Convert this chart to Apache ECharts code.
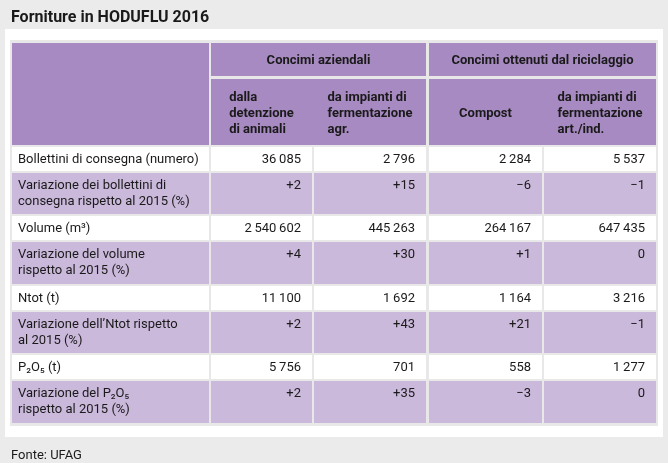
<!DOCTYPE html>
<html>
<head>
<meta charset="utf-8">
<script src="https://cdn.jsdelivr.net/npm/echarts@6/dist/echarts.min.js"></script>
<style>
html,body{margin:0;padding:0;background:#ebebeb;}
#main{width:668px;height:463px;}
</style>
</head>
<body>
<div id="main"></div>
<script>
// --- dati ---
const titolo = 'Forniture in HODUFLU 2016';
const fonte = 'Fonte: UFAG';
const gruppi = ['Concimi aziendali', 'Concimi ottenuti dal riciclaggio'];
const colonne = ['dalla\ndetenzione\ndi animali', 'da impianti di\nfermentazione\nagr.', 'Compost', 'da impianti di\nfermentazione\nart./ind.'];
const righe = [
	'Bollettini di consegna (numero)',
	'Variazione dei bollettini di\nconsegna rispetto al 2015 (%)',
	'Volume (m\u00b3)',
	'Variazione del volume\nrispetto al 2015 (%)',
	'Ntot (t)',
	'Variazione dell\u2019Ntot rispetto\nal 2015 (%)',
	'P\u2082O\u2085 (t)',
	'Variazione del P\u2082O\u2085\nrispetto al 2015 (%)'
];
const bollettini = [36085, 2796, 2284, 5537];
const varBollettini = [2, 15, -6, -1];
const volume = [2540602, 445263, 264167, 647435];
const varVolume = [4, 30, 1, 0];
const ntot = [11100, 1692, 1164, 3216];
const varNtot = [2, 43, 21, -1];
const p2o5 = [5756, 701, 558, 1277];
const varP2o5 = [2, 35, -3, 0];
const valori = [bollettini, varBollettini, volume, varVolume, ntot, varNtot, p2o5, varP2o5];

// --- layout ---
const W = 668, H = 463;
const colL = [12, 211, 314, 429, 544];
const colR = [209, 312, 426, 542, 656];
const gruppoCol = [0, 0, 1, 1];
const head1 = [43, 76], head2 = [79, 145];
const altezze = [24, 41, 24, 42, 24, 41, 24, 42];
const FONT = 'Roboto';
const viola = '#a78ac1', lilla = '#cbb9dc', bianco = '#ffffff', grigio = '#e8e8e8';

let rowTop = [];
let y = 147;
for (let h of altezze) { rowTop.push(y); y += h + 2; }

function fmtNum(v) {
	return String(v).replace(/\B(?=(\d{3})+(?!\d))/g, '\u2009');
}
function fmtVar(v) {
	if (v > 0) return '+' + v;
	if (v < 0) return '\u2212' + (-v);
	return '0';
}

const ctx = document.createElement('canvas').getContext('2d');
function larghezza(testo, font) {
	ctx.font = font;
	return Math.max(...testo.split('\n').map(t => ctx.measureText(t).width));
}

// celle: tipo, colonna, riga
let celle = [];
celle.push({ t: 'angolo' });
gruppi.forEach((g, i) => celle.push({ t: 'gruppo', i: i, testo: g }));
colonne.forEach((c, i) => celle.push({ t: 'sotto', i: i, testo: c }));
righe.forEach((r, ri) => {
	celle.push({ t: 'etichetta', r: ri, testo: r });
	valori[ri].forEach((v, ci) => {
		celle.push({ t: 'valore', r: ri, i: ci, testo: ri % 2 ? fmtVar(v) : fmtNum(v) });
	});
});

function renderItem(params, api) {
	const c = celle[params.dataIndex];
	let x0, x1, y0, y1, txt = null;
	const base = { fontFamily: FONT, fontSize: 13, fill: '#1a1a1a', lineHeight: 16 };
	if (c.t === 'angolo') {
		x0 = colL[0]; x1 = colR[0]; y0 = head1[0]; y1 = head2[1];
	} else if (c.t === 'gruppo') {
		x0 = colL[1 + c.i * 2]; x1 = colR[2 + c.i * 2]; y0 = head1[0]; y1 = head1[1];
		const p = api.coord([(x0 + x1) / 2, (y0 + y1) / 2]);
		txt = Object.assign({}, base, { text: c.testo, x: p[0], y: p[1] + 1, align: 'center', verticalAlign: 'middle', fontWeight: 'bold' });
	} else if (c.t === 'sotto') {
		const k = c.i + 1;
		x0 = colL[k];
		x1 = (k < 4 && gruppoCol[c.i] === gruppoCol[c.i + 1]) ? colL[k + 1] : colR[k];
		y0 = head2[0]; y1 = head2[1];
		const w = larghezza(c.testo, 'bold 13px ' + FONT);
		const p = api.coord([(colL[k] + colR[k]) / 2 - w / 2, (y0 + y1) / 2]);
		txt = Object.assign({}, base, { text: c.testo, x: p[0], y: p[1] + 2, align: 'left', verticalAlign: 'middle', fontWeight: 'bold' });
	} else if (c.t === 'etichetta') {
		x0 = colL[0]; x1 = colR[0]; y0 = rowTop[c.r]; y1 = y0 + altezze[c.r];
		const p = api.coord([x0 + 6, y0 + 5]);
		txt = Object.assign({}, base, { text: c.testo, x: p[0], y: p[1], align: 'left', verticalAlign: 'top' });
	} else {
		const k = c.i + 1;
		x0 = colL[k]; x1 = colR[k]; y0 = rowTop[c.r]; y1 = y0 + altezze[c.r];
		const p = api.coord([x1 - 11, y0 + 5]);
		txt = Object.assign({}, base, { text: c.testo, x: p[0], y: p[1], align: 'right', verticalAlign: 'top' });
	}
	const a = api.coord([x0, y0]), b = api.coord([x1, y1]);
	let colore = viola;
	if (c.t === 'etichetta' || c.t === 'valore') colore = c.r % 2 ? lilla : bianco;
	const children = [{ type: 'rect', shape: { x: a[0], y: a[1], width: b[0] - a[0], height: b[1] - a[1] }, style: { fill: colore } }];
	if (txt) children.push({ type: 'text', style: txt, z2: 10 });
	return { type: 'group', children: children };
}

const chart = echarts.init(document.getElementById('main'), null, { renderer: 'canvas' });
chart.setOption({
	backgroundColor: '#ebebeb',
	animation: false,
	title: [
		{ text: titolo, left: 6, top: 5, textStyle: { fontFamily: FONT, fontSize: 16, fontWeight: 'bold', color: '#1a1a1a' } },
		{ text: fonte, left: 6, top: 444, textStyle: { fontFamily: FONT, fontSize: 13, fontWeight: 'normal', color: '#1a1a1a' } }
	],
	graphic: [
		{ type: 'rect', shape: { x: 5, y: 29, width: 658, height: 408 }, style: { fill: '#ffffff' }, z: -10 },
		{ type: 'rect', shape: { x: 10, y: 40, width: 648, height: 386 }, style: { fill: grigio }, z: -9 }
	],
	grid: { left: 0, right: 0, top: 0, bottom: 0 },
	xAxis: { type: 'value', min: 0, max: W, show: false },
	yAxis: { type: 'value', min: 0, max: H, inverse: true, show: false },
	series: [{
		type: 'custom',
		renderItem: renderItem,
		data: celle.map((c, i) => [i, 0]),
		clip: false,
		silent: true
	}]
});
</script>
</body>
</html>
